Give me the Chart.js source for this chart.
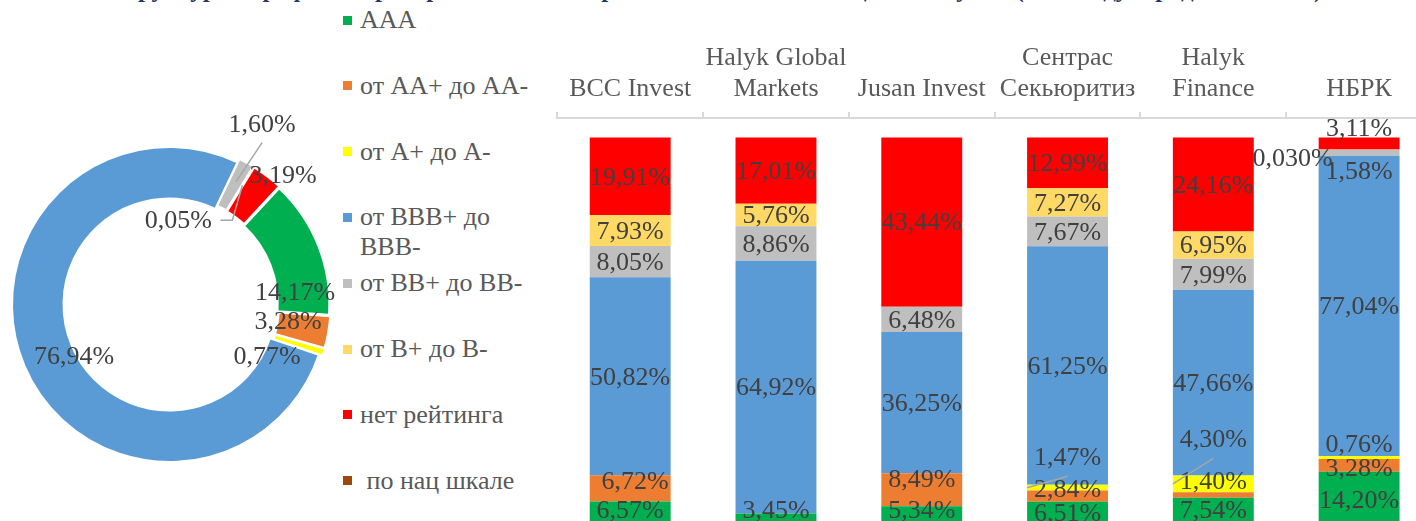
<!DOCTYPE html>
<html><head><meta charset="utf-8">
<script src="https://cdn.jsdelivr.net/npm/chart.js@4.4.1/dist/chart.umd.min.js"></script>
<style>
html,body{margin:0;padding:0;width:1416px;height:521px;overflow:hidden;background:#fff;}
#title{position:absolute;left:0;width:1430px;top:-24px;text-align:center;font:bold 25px "Liberation Serif";line-height:25px;color:#1F3864;white-space:nowrap;}
#pie{position:absolute;left:0;top:100px;}
#bars{position:absolute;left:540px;top:0;}
#legend{position:absolute;left:343px;top:0;width:200px;height:521px;font-family:"Liberation Serif";font-size:26px;color:#595959;}
.item{position:absolute;left:0;width:200px;}
.sw{position:absolute;left:0;width:9px;height:9px;}
.tx{position:absolute;left:17px;width:185px;line-height:30px;white-space:pre-wrap;}
</style></head><body>
<div id="title">Структура портфелей брокеров и НБРК по рейтингам эмитентов ценных бумаг (по международной шкале)</div>
<canvas id="pie" width="339" height="409"></canvas>
<div id="legend"></div>
<canvas id="bars" width="910" height="540"></canvas>
<script>
// ---- data ----
const seriesNames = ['AAA', 'от AA+ до AA-', 'от A+ до A-', 'от BBB+ до BBB-', 'от BB+ до BB-', 'от B+ до B-', 'нет рейтинга', ' по нац шкале'];
const seriesColors = ['#00B050', '#ED7D31', '#FFFF00', '#5B9BD5', '#BFBFBF', '#FFD966', '#FF0000', '#9E480E'];
const categories = [['BCC Invest'], ['Halyk Global', 'Markets'], ['Jusan Invest'], ['Сентрас', 'Секьюритиз'], ['Halyk', 'Finance'], ['НБРК']];
const totalShares = [14.17, 3.28, 0.77, 76.94, 1.60, 0.05, 3.19, 0];
const aaa      = [6.57, 3.45, 5.34, 6.51, 7.54, 14.20];
const aa       = [6.72, 0, 8.49, 2.84, 1.40, 3.28];
const a        = [0, 0, 0, 1.47, 4.30, 0.76];
const bbb      = [50.82, 64.92, 36.25, 61.25, 47.66, 77.04];
const bb       = [8.05, 8.86, 6.48, 7.67, 7.99, 1.58];
const b        = [7.93, 5.76, 0, 7.27, 6.95, 0.03];
const noRating = [19.91, 17.01, 43.44, 12.99, 24.16, 3.11];
const national = [0, 0, 0, 0, 0, 0];
const barSeries = [aaa, aa, a, bbb, bb, b, noRating, national];

Chart.defaults.font.family = '"Liberation Serif"';
const fmt = v => v.toFixed(2).replace('.', ',') + '%';

// ---- legend ----
const leg = document.getElementById('legend');
seriesNames.forEach((n, i) => {
  const c = 20 + i * 65.8;
  const it = document.createElement('div');
  it.className = 'item';
  it.style.top = '0px';
  const sw = document.createElement('div');
  sw.className = 'sw'; sw.style.background = seriesColors[i]; sw.style.top = (c - 4.5) + 'px';
  const tx = document.createElement('div');
  tx.className = 'tx'; tx.textContent = n; tx.style.top = (c - 15) + 'px';
  it.appendChild(sw); it.appendChild(tx); leg.appendChild(it);
});

// ---- doughnut ----
const pieLabels = {
  id: 'pieLabels',
  afterDatasetsDraw(chart, args, o) {
    const ctx = chart.ctx;
    ctx.save();
    ctx.font = '26px "Liberation Serif"';
    ctx.fillStyle = '#404040';
    ctx.textAlign = 'center'; ctx.textBaseline = 'middle';
    const ds = chart.data.datasets[0];
    chart.getDatasetMeta(0).data.forEach((arc, i) => {
      const v = ds.data[i];
      if (!v) return;
      const mid = (arc.startAngle + arc.endAngle) / 2;
      const r = (arc.innerRadius + arc.outerRadius) / 2 + (arc.options.offset || 0);
      const px = arc.x + Math.cos(mid) * r, py = arc.y + Math.sin(mid) * r;
      const n = o.nudges[i] || [0, 0];
      const x = px + n[0], y = py + n[1];
      ctx.strokeStyle = '#a6a6a6'; ctx.lineWidth = 1.5;
      if (o.leaders[i] === 'down') {
        ctx.beginPath(); ctx.moveTo(x, y + 17); ctx.lineTo(px, py); ctx.stroke();
      } else if (o.leaders[i] === 'elbow') {
        ctx.beginPath(); ctx.moveTo(x + 42, y - 1); ctx.lineTo(x + 54, y - 1); ctx.lineTo(px, py); ctx.stroke();
      }
      ctx.fillText(fmt(v), x, y);
    });
    ctx.restore();
  }
};

new Chart(document.getElementById('pie'), {
  type: 'doughnut',
  data: {
    labels: seriesNames,
    datasets: [{
      data: totalShares,
      backgroundColor: seriesColors,
      borderColor: '#ffffff',
      borderWidth: 2,
      offset: [8, 8, 8, 0, 8, 8, 8, 0]
    }]
  },
  options: {
    responsive: false, animation: false, events: [],
    devicePixelRatio: 1,
    rotation: 43,
    radius: 157.5,
    cutout: '67.3%',
    plugins: {
      legend: { display: false }, tooltip: { enabled: false },
      pieLabels: {
        nudges: { 0: [-4.5, 40], 1: [-19, -6.5], 2: [-36, 11], 3: [26, 1], 4: [26, -56], 5: [-64, 36], 6: [29, -17] },
        leaders: { 4: 'down', 5: 'elbow' }
      }
    }
  },
  plugins: [pieLabels]
});

// ---- stacked bars ----
const barLabels = {
  id: 'barLabels',
  afterDatasetsDraw(chart, args, o) {
    const ctx = chart.ctx;
    ctx.save();
    ctx.font = '26px "Liberation Serif"';
    ctx.textAlign = 'center'; ctx.textBaseline = 'middle';
    chart.data.datasets.forEach((ds, i) => {
      chart.getDatasetMeta(i).data.forEach((bar, j) => {
        const v = ds.data[j];
        if (!v) return;
        const key = i + ',' + j;
        const n = o.nudges[key] || [0, 0];
        const yc = (bar.y + bar.base) / 2;
        const x = bar.x + n[0], y = yc + n[1] + o.shift;
        if (o.leaders.includes(key)) {
          ctx.strokeStyle = '#a6a6a6'; ctx.lineWidth = 1.5;
          ctx.beginPath(); ctx.moveTo(x, y + 18); ctx.lineTo(bar.x - bar.width / 2, yc); ctx.stroke();
        }
        ctx.fillStyle = '#404040';
        ctx.fillText(o.text[key] || fmt(v), x, y);
      });
    });
    ctx.restore();
  }
};

new Chart(document.getElementById('bars'), {
  type: 'bar',
  data: {
    labels: categories,
    datasets: barSeries.map((d, i) => ({
      label: seriesNames[i], data: d, backgroundColor: seriesColors[i],
      borderWidth: 0, categoryPercentage: 1, barPercentage: 0.555
    }))
  },
  options: {
    responsive: false, animation: false, events: [],
    devicePixelRatio: 1,
    layout: { padding: { left: 17.3, right: 18, top: 0, bottom: 13 } },
    scales: {
      x: {
        position: 'top', stacked: true, offset: true,
        grid: { display: true, drawOnChartArea: false, drawTicks: true, tickLength: 6, color: '#d9d9d9', lineWidth: 2, offset: true },
        border: { display: true, color: '#d9d9d9', width: 2 },
        ticks: { color: '#595959', font: { family: '"Liberation Serif"', size: 26, lineHeight: 1.19 }, padding: 7, autoSkip: false, maxRotation: 0, minRotation: 0 },
        afterFit: (s) => { s.height = 118; }
      },
      y: { display: false, stacked: true, min: 0, max: 105 }
    },
    plugins: {
      legend: { display: false }, tooltip: { enabled: false },
      barLabels: {
        shift: 1.5,
        nudges: {
          '0,0': [0, -5], '1,0': [5, -8],
          '0,1': [0, -11],
          '0,2': [0, -7], '1,2': [0, -11],
          '0,3': [0, -2], '1,3': [0, -7], '2,3': [0, -31],
          '0,4': [0, -3], '1,4': [0, -14], '2,4': [0, -45],
          '1,5': [0, 2], '2,5': [0, -14], '4,5': [0, 18], '5,5': [-66.5, 8], '6,5': [0, -16]
        },
        leaders: ['2,3', '2,4'],
        text: { '5,5': '0,030%' }
      }
    }
  },
  plugins: [barLabels]
});
</script>
</body></html>
